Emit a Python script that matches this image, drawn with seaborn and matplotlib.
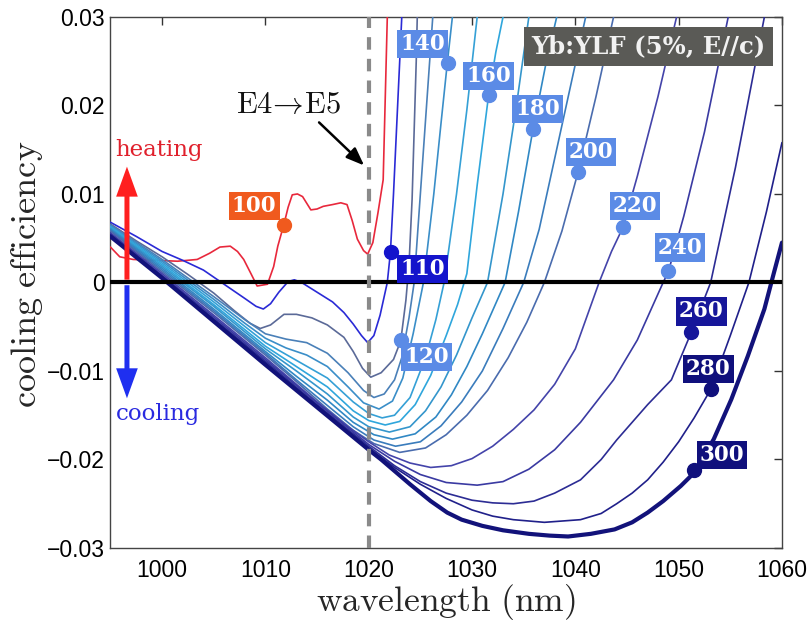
import numpy as np
import pandas as pd
import matplotlib
matplotlib.use("Agg")
import matplotlib.pyplot as plt
import seaborn as sns

# ---------------- data ----------------
temps = [100, 110, 120, 130, 140, 150, 160, 170, 180, 190, 200, 220, 240, 260, 280, 300]

wl_100 = [995, 995.9, 997.2, 999.5, 1001.5, 1003.4, 1004.6, 1005.6, 1006.6, 1007.3, 1007.9, 1008.6, 1009.2,
          1010.2, 1010.8, 1011.2, 1011.8, 1012.2, 1012.6, 1013.1, 1013.6, 1014.4, 1015.0, 1015.6, 1016.5,
          1017.3, 1017.9, 1018.4, 1018.9, 1019.5, 1019.9, 1020.4, 1020.9, 1021.4, 1021.8, 1022.1]
ce_100 = [0.0040, 0.0029, 0.0026, 0.0025, 0.0024, 0.0026, 0.0033, 0.0040, 0.0041, 0.0035, 0.0026, 0.0010, -0.0004,
          -0.0002, 0.0018, 0.0041, 0.0066, 0.0085, 0.0099, 0.0100, 0.0097, 0.0082, 0.0083, 0.0086, 0.0088,
          0.0090, 0.0088, 0.0070, 0.0049, 0.0036, 0.0032, 0.0045, 0.0079, 0.0116, 0.0300, 0.0400]

wl_110 = [995, 997.5, 1000, 1002, 1004, 1006, 1008, 1009.1, 1009.8, 1010.5, 1011.3, 1012.2, 1012.8, 1013.5,
          1015, 1016.5, 1017.6, 1018.5, 1019.3, 1019.9, 1020.5, 1021.1, 1021.8, 1022.1, 1022.4, 1022.8,
          1023.2, 1023.4]
ce_110 = [0.0068, 0.0052, 0.0035, 0.0025, 0.0014, -0.0002, -0.0018, -0.0027, -0.0030, -0.0024, -0.0011, 0.0001,
          0.0003, 0.0000, -0.0011, -0.0022, -0.0034, -0.0047, -0.0060, -0.0068, -0.0060, -0.0037, 0.0000,
          0.0034, 0.0100, 0.0200, 0.0300, 0.0350]

wl_120 = [995, 997.5, 1000, 1002.5, 1005, 1007, 1008.5, 1009.5, 1010.5, 1011.8, 1013, 1014.5, 1016, 1017.6,
          1018.5, 1019.4, 1020.2, 1021.2, 1022.4, 1023.1, 1023.6, 1023.9, 1024.2, 1024.6, 1024.8]
ce_120 = [0.0066, 0.0047, 0.0029, 0.0009, -0.0012, -0.0032, -0.0046, -0.0052, -0.0048, -0.0036, -0.0036, -0.0040,
          -0.0048, -0.0062, -0.0078, -0.0097, -0.0107, -0.0102, -0.0087, -0.0066, -0.0020, 0.0020, 0.0094,
          0.0250, 0.0350]

wl_130 = [995, 1000, 1005, 1008, 1010, 1012, 1014, 1016, 1018, 1019.5, 1020.5, 1021.5, 1022.5, 1023.2,
          1023.9, 1024.4, 1025.0, 1025.6, 1026.2, 1026.5]
ce_130 = [0.0065, 0.0026, -0.0016, -0.0042, -0.0058, -0.0064, -0.0068, -0.0080, -0.0102, -0.0122, -0.0130,
          -0.0126, -0.0110, -0.0085, -0.0040, 0.0000, 0.0100, 0.0200, 0.0300, 0.0350]

wl_140 = [995, 1000, 1005, 1008, 1010, 1012, 1014, 1016, 1018, 1019.5, 1021, 1022.3, 1023.3, 1024.3,
          1025.3, 1026.3, 1027.0, 1027.6, 1028.1, 1028.4]
ce_140 = [0.0064, 0.0024, -0.0019, -0.0046, -0.0063, -0.0074, -0.0082, -0.0095, -0.0118, -0.0136, -0.0143,
          -0.0134, -0.0108, -0.0058, 0.0000, 0.0100, 0.0180, 0.0247, 0.0300, 0.0350]

wl_150 = [995, 1000, 1005, 1010, 1013, 1016, 1018.5, 1020, 1021.3, 1022.5, 1024, 1025.5, 1026.5, 1027.3,
          1028.5, 1029.5, 1030.5, 1030.9]
ce_150 = [0.0063, 0.0022, -0.0022, -0.0068, -0.0088, -0.0108, -0.0135, -0.0148, -0.0153, -0.0150, -0.0130,
          -0.0085, -0.0042, 0.0000, 0.0100, 0.0195, 0.0300, 0.0350]

wl_160 = [995, 1000, 1005, 1010, 1013, 1016, 1018.5, 1020, 1021.6, 1023, 1024.5, 1026, 1027.5, 1028.6,
          1029.5, 1030.5, 1031.6, 1032.3, 1033, 1033.5]
ce_160 = [0.0062, 0.0020, -0.0025, -0.0072, -0.0095, -0.0118, -0.0145, -0.0156, -0.0161, -0.0157, -0.0138,
          -0.0105, -0.0060, -0.0025, 0.0010, 0.0110, 0.0211, 0.0260, 0.0300, 0.0350]

wl_170 = [995, 1000, 1005, 1010, 1013, 1016, 1018.5, 1020, 1022, 1024, 1025.5, 1027, 1028.5, 1030, 1031.5,
          1033, 1034.3, 1035.5, 1036]
ce_170 = [0.0061, 0.0018, -0.0027, -0.0075, -0.0100, -0.0126, -0.0152, -0.0163, -0.0169, -0.0163, -0.0145,
          -0.0118, -0.0082, -0.0040, 0.0000, 0.0100, 0.0200, 0.0300, 0.0350]

wl_180 = [995, 1000, 1005, 1010, 1013, 1016, 1018.5, 1020.5, 1022.3, 1024.5, 1026.5, 1028, 1029.5, 1031,
          1033.2, 1034.5, 1035.9, 1037.2, 1038.2, 1038.8]
ce_180 = [0.0060, 0.0016, -0.0030, -0.0078, -0.0106, -0.0133, -0.0158, -0.0172, -0.0177, -0.0171, -0.0152,
          -0.0127, -0.0095, -0.0058, 0.0000, 0.0080, 0.0173, 0.0250, 0.0300, 0.0350]

wl_190 = [995, 1000, 1005, 1010, 1013, 1016, 1018.5, 1020.5, 1022.6, 1025, 1027, 1029, 1031, 1033, 1035,
          1036.5, 1038, 1039.5, 1041, 1041.7]
ce_190 = [0.0059, 0.0014, -0.0032, -0.0080, -0.0110, -0.0139, -0.0163, -0.0178, -0.0185, -0.0180, -0.0162,
          -0.0135, -0.0100, -0.0052, 0.0000, 0.0060, 0.0140, 0.0220, 0.0300, 0.0350]

wl_200 = [995, 1000, 1005, 1010, 1013, 1016, 1018.5, 1020.5, 1023, 1025.5, 1027.5, 1029.5, 1031.5, 1033.5,
          1035.3, 1037, 1038.7, 1040.25, 1042, 1043.7, 1044.5]
ce_200 = [0.0058, 0.0012, -0.0034, -0.0082, -0.0112, -0.0143, -0.0167, -0.0182, -0.0192, -0.0187, -0.0172,
          -0.0150, -0.0122, -0.0085, -0.0045, 0.0000, 0.0058, 0.0124, 0.0210, 0.0300, 0.0350]

wl_220 = [995, 1000, 1005, 1010, 1015, 1018, 1020, 1022, 1024, 1026, 1028, 1030, 1032, 1034, 1036, 1038,
          1040, 1042.3, 1043.5, 1044.6, 1046, 1048, 1049.8, 1050.5]
ce_220 = [0.0056, 0.0010, -0.0037, -0.0085, -0.0135, -0.0163, -0.0180, -0.0195, -0.0204, -0.0209, -0.0207,
          -0.0199, -0.0185, -0.0166, -0.0144, -0.0115, -0.0075, 0.0000, 0.0035, 0.0062, 0.0120, 0.0210,
          0.0300, 0.0350]

wl_240 = [995, 1000, 1005, 1010, 1015, 1020, 1022.5, 1025, 1027.5, 1030.5, 1033, 1035.5, 1038, 1040.5,
          1043.7, 1046, 1048.5, 1049.0, 1050.5, 1052.5, 1054.8, 1055.5]
ce_240 = [0.0055, 0.0008, -0.0039, -0.0087, -0.0136, -0.0183, -0.0202, -0.0217, -0.0226, -0.0229, -0.0225,
          -0.0211, -0.0189, -0.0158, -0.0110, -0.0065, 0.0000, 0.0012, 0.0075, 0.0170, 0.0300, 0.0350]

wl_260 = [995, 1000, 1005, 1010, 1015, 1020, 1022.5, 1025, 1027.5, 1030, 1032, 1034, 1036, 1038, 1040.5,
          1042.5, 1044, 1047, 1049.3, 1051.2, 1053.1, 1055.5, 1058.3, 1058.8]
ce_260 = [0.0054, 0.0007, -0.0041, -0.0089, -0.0138, -0.0185, -0.0207, -0.0225, -0.0238, -0.0246, -0.0249,
          -0.0250, -0.0247, -0.0238, -0.0223, -0.0200, -0.0178, -0.0138, -0.0110, -0.0057, 0.0000, 0.0130,
          0.0300, 0.0350]

wl_280 = [995, 1000, 1005, 1010, 1015, 1020, 1022.5, 1025, 1027.5, 1030, 1032, 1034, 1037, 1040.5, 1042.5,
          1044, 1045.5, 1047, 1048.5, 1050, 1051.5, 1053.1, 1055, 1056.8, 1058.5, 1060]
ce_280 = [0.0053, 0.0006, -0.0043, -0.0091, -0.0140, -0.0187, -0.0209, -0.0228, -0.0244, -0.0257, -0.0264,
          -0.0268, -0.0271, -0.0268, -0.0261, -0.0250, -0.0238, -0.0223, -0.0203, -0.0180, -0.0153, -0.0121,
          -0.0060, 0.0000, 0.0080, 0.0158]

wl_300 = [995, 1000, 1005, 1010, 1015, 1020, 1021.2, 1024, 1026, 1027.6, 1029, 1031, 1033, 1035.5,
          1037.5, 1039.3, 1041.5, 1043.8, 1045.5, 1047, 1048.5, 1050.2, 1051.5, 1053.4, 1055.1, 1056.7,
          1058.3, 1059.2, 1060]
ce_300 = [0.0052, 0.0005, -0.0044, -0.0093, -0.0141, -0.0189, -0.0200, -0.0228, -0.0247, -0.0260, -0.0268,
          -0.0275, -0.0280, -0.0284, -0.0286, -0.0287, -0.0284, -0.0279, -0.0271, -0.0260, -0.0247, -0.0230,
          -0.0215, -0.0177, -0.0132, -0.0083, -0.0030, 0.0010, 0.0045]

curve_wl = {100: wl_100, 110: wl_110, 120: wl_120, 130: wl_130, 140: wl_140, 150: wl_150, 160: wl_160,
            170: wl_170, 180: wl_180, 190: wl_190, 200: wl_200, 220: wl_220, 240: wl_240, 260: wl_260,
            280: wl_280, 300: wl_300}
curve_ce = {100: ce_100, 110: ce_110, 120: ce_120, 130: ce_130, 140: ce_140, 150: ce_150, 160: ce_160,
            170: ce_170, 180: ce_180, 190: ce_190, 200: ce_200, 220: ce_220, 240: ce_240, 260: ce_260,
            280: ce_280, 300: ce_300}

curve_colors = {100: "#e8283c", 110: "#2a2ad6", 120: "#5b6a98", 130: "#4a80b8", 140: "#3a8ec8",
                150: "#35a0d6", 160: "#2fa6dc", 170: "#3496cc", 180: "#3088c4", 190: "#3a7cbc",
                200: "#4a6cae", 220: "#4444aa", 240: "#3a3aa2", 260: "#2c2c94", 280: "#20208a",
                300: "#12127a"}

# temperature labels: marker on the curve, box position
label_T = [100, 110, 120, 140, 160, 180, 200, 220, 240, 260, 280, 300]
mark_x = [1011.83, 1022.11, 1023.08, 1027.64, 1031.61, 1035.88, 1040.25, 1044.61, 1048.98, 1051.21, 1053.15, 1051.50]
mark_y = [0.00644, 0.00339, -0.00655, 0.02475, 0.02113, 0.01729, 0.01243, 0.00621, 0.00124, -0.00565, -0.01209, -0.02124]
box_x = [1008.92, 1025.21, 1025.60, 1025.21, 1031.61, 1036.36, 1041.51, 1045.78, 1050.14, 1052.18, 1052.86, 1054.21]
box_y = [0.00859, 0.00147, -0.00847, 0.02689, 0.02328, 0.01955, 0.01469, 0.00859, 0.00395, -0.00328, -0.00983, -0.01944]
label_colors = ["#f05a1e", "#1414cc", "#5b8be6", "#5b8be6", "#5b8be6", "#5b8be6", "#5b8be6", "#5b8be6",
                "#5b8be6", "#16169a", "#10107c", "#10107c"]

x_ticks = [1000, 1010, 1020, 1030, 1040, 1050, 1060]
y_ticks = [-0.03, -0.02, -0.01, 0, 0.01, 0.02, 0.03]
y_ticklabels = ["\u22120.03", "\u22120.02", "\u22120.01", "0", "0.01", "0.02", "0.03"]

# ---------------- figure ----------------
sns.set_theme(style="white")
plt.rcParams["font.family"] = ["Liberation Sans", "DejaVu Sans"]
plt.rcParams["mathtext.fontset"] = "cm"

fig = plt.figure(figsize=(8.12, 6.27), dpi=100)
ax = fig.add_axes([0.136, 0.126, 0.827, 0.847])

rows = []
for T in temps:
    for w, c in zip(curve_wl[T], curve_ce[T]):
        rows.append((T, w, c))
df = pd.DataFrame(rows, columns=["T", "wavelength", "efficiency"])

for T in temps:
    sub = df[df["T"] == T]
    sns.lineplot(data=sub, x="wavelength", y="efficiency", ax=ax, color=curve_colors[T],
                 lw=3.0 if T == 300 else 1.2, sort=False, estimator=None, legend=False, zorder=3)

ax.axhline(0, color="black", lw=3, zorder=4)
ax.axvline(1020, color="#8a8a8a", lw=3, ls=(0, (3, 2.2)), zorder=5)

ax.set_xlim(995, 1060)
ax.set_ylim(-0.03, 0.03)
ax.set_xticks(x_ticks)
ax.set_yticks(y_ticks)
ax.set_yticklabels(y_ticklabels)
ax.tick_params(direction="in", top=True, right=True, length=6, width=1, colors="#333333",
               labelsize=16.5, labelcolor="black")
ax.tick_params(axis="x", pad=8)
ax.tick_params(axis="y", pad=4)
for s in ax.spines.values():
    s.set_color("#444444")
    s.set_linewidth(1)

ax.set_xlabel(r"$\mathrm{wavelength\ (nm)}$", fontsize=25.5)
ax.set_ylabel(r"$\mathrm{cooling\ efficiency}$", fontsize=26)
ax.xaxis.set_label_coords(0.5, -0.064)
ax.yaxis.set_label_coords(-0.098, 0.515)

# labels with markers
for T, mx, my, bx, by, col in zip(label_T, mark_x, mark_y, box_x, box_y, label_colors):
    ax.plot([mx], [my], "o", ms=10, color=col, zorder=8)
    ax.text(bx, by, str(T), ha="center", va="center", fontsize=15.5, fontweight="bold",
            family="DejaVu Serif", color="white", zorder=9,
            bbox=dict(boxstyle="square,pad=0.14", fc=col, ec="none"))

# sample text box
ax.text(1047.1, 0.02665, "Yb:YLF (5%, E//c)", ha="center", va="center", fontsize=17.5,
        fontweight="bold", family="DejaVu Serif", color="#f2f2f2", zorder=9,
        bbox=dict(boxstyle="square,pad=0.3", fc="#5a5a56", ec="none"))

# E4 -> E5 annotation
ax.text(1012.2, 0.0200, r"$\mathrm{E4}\!\rightarrow\!\mathrm{E5}$", ha="center", va="center",
        fontsize=22, color="#111111", zorder=9)
ax.annotate("", xy=(1019.75, 0.0130), xytext=(1015.0, 0.0183),
            arrowprops=dict(arrowstyle="-|>,head_width=0.35,head_length=0.9", color="black", lw=1.8),
            zorder=9)

# heating / cooling arrows
ax.annotate("", xy=(996.6, 0.0134), xytext=(996.6, 0.0),
            arrowprops=dict(arrowstyle="simple,head_length=1.8,head_width=1.3,tail_width=0.3",
                            mutation_scale=12, color="#ff1f1f", lw=0), zorder=7)
ax.annotate("", xy=(996.6, -0.0134), xytext=(996.6, 0.0),
            arrowprops=dict(arrowstyle="simple,head_length=1.8,head_width=1.3,tail_width=0.3",
                            mutation_scale=12, color="#1f2ff0", lw=0), zorder=7)
ax.text(995.5, 0.0150, "heating", ha="left", va="center", fontsize=16.5, family="DejaVu Serif",
        color="#e0202c", zorder=9)
ax.text(995.5, -0.0149, "cooling", ha="left", va="center", fontsize=16.5, family="DejaVu Serif",
        color="#2a2ae0", zorder=9)

fig.savefig("out.png", dpi=100)
